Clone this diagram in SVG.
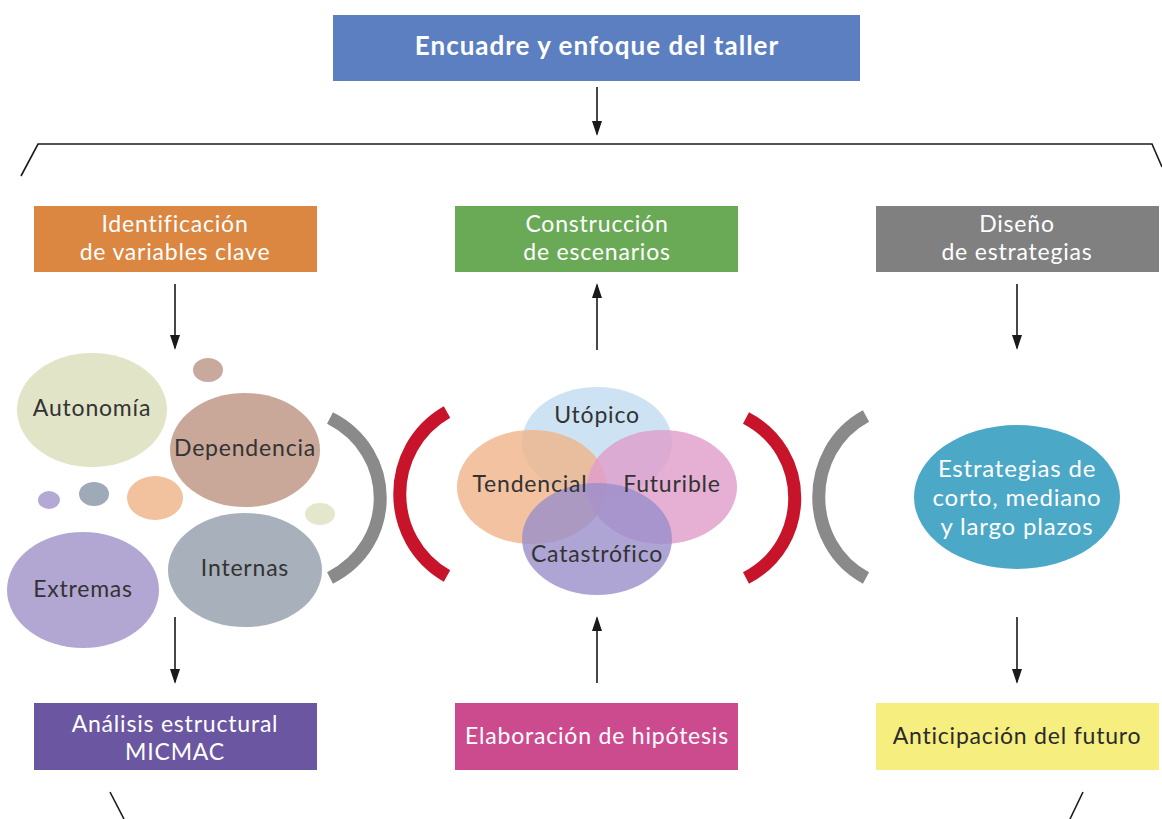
<svg xmlns="http://www.w3.org/2000/svg" width="1162" height="819" viewBox="0 0 1162 819">
<defs>
<marker id="ah" markerWidth="15" markerHeight="11" refX="13" refY="5" orient="auto" markerUnits="userSpaceOnUse" viewBox="0 0 15 10">
<path d="M0,0 L15,5 L0,10 Z" fill="#1a1a1a"/>
</marker>
</defs>
<style>
text{font-family:"Lato","Open Sans","DejaVu Sans",sans-serif;text-anchor:middle;letter-spacing:0.8px}
.bt{fill:#ffffff;font-size:23px}
.dk{fill:#2a2a2a;font-size:23px}
.el{fill:#333333;font-size:23px}
.ln{stroke:#1a1a1a;stroke-width:1.6;fill:none}
.arc{fill:none;stroke-width:13;stroke-linecap:butt}
</style>
<rect width="1162" height="819" fill="#ffffff"/>

<g id="connectors">
<line class="ln" x1="597" y1="87" x2="597" y2="134" marker-end="url(#ah)"/>
<polyline class="ln" points="21,176 38,144 1152,144 1162,167"/>
<line class="ln" x1="175" y1="284" x2="175" y2="348" marker-end="url(#ah)"/>
<line class="ln" x1="597" y1="350" x2="597" y2="285" marker-end="url(#ah)"/>
<line class="ln" x1="1017" y1="284" x2="1017" y2="348" marker-end="url(#ah)"/>
<line class="ln" x1="175" y1="617" x2="175" y2="682" marker-end="url(#ah)"/>
<line class="ln" x1="597" y1="683" x2="597" y2="618" marker-end="url(#ah)"/>
<line class="ln" x1="1017" y1="617" x2="1017" y2="682" marker-end="url(#ah)"/>
<line class="ln" x1="110" y1="792" x2="124" y2="819"/>
<line class="ln" x1="1083" y1="792" x2="1070" y2="819"/>
</g>

<g id="n-encuadre">
<rect x="333" y="15" width="527" height="66" fill="#5b7fc0"/>
<text class="bt" x="597" y="55" style="font-weight:700;font-size:26px;letter-spacing:1px">Encuadre y enfoque del taller</text>
</g>

<g id="n-identificacion">
<rect x="34" y="206" width="283" height="66" fill="#db8641"/>
<text class="bt" x="175" y="232">Identificación</text>
<text class="bt" x="175" y="260">de variables clave</text>
</g>

<g id="n-construccion">
<rect x="455" y="206" width="283" height="66" fill="#6aaa57"/>
<text class="bt" x="597" y="232">Construcción</text>
<text class="bt" x="597" y="260">de escenarios</text>
</g>

<g id="n-diseno">
<rect x="876" y="206" width="283" height="66" fill="#808080"/>
<text class="bt" x="1017" y="232">Diseño</text>
<text class="bt" x="1017" y="260">de estrategias</text>
</g>

<g id="n-variables">
<ellipse cx="92" cy="410" rx="75" ry="57" fill="#e2e4c8"/>
<ellipse cx="208" cy="370" rx="15" ry="12" fill="#c9a99d"/>
<ellipse cx="245" cy="450" rx="75" ry="57" fill="#c9a89a"/>
<ellipse cx="49" cy="500" rx="11" ry="9" fill="#b4a8d4"/>
<ellipse cx="94" cy="494" rx="15" ry="12" fill="#9eaab7"/>
<ellipse cx="155" cy="498" rx="28" ry="22" fill="#f2c19d"/>
<ellipse cx="320" cy="514" rx="15" ry="11" fill="#e4e7cb"/>
<ellipse cx="83" cy="590" rx="76" ry="58" fill="#b2a7d2"/>
<ellipse cx="245" cy="570" rx="77" ry="57" fill="#a7b0bb"/>
<text class="el" x="92" y="416">Autonomía</text>
<text class="el" x="245" y="456">Dependencia</text>
<text class="el" x="245" y="576">Internas</text>
<text class="el" x="83" y="597">Extremas</text>
</g>

<g id="n-escenarios">
<ellipse cx="597" cy="442" rx="75" ry="55" fill="#c4def1" opacity="0.85"/>
<ellipse cx="532" cy="487" rx="75" ry="57" fill="#f0b48a" opacity="0.8"/>
<ellipse cx="662" cy="487" rx="75" ry="57" fill="#e09ccb" opacity="0.8"/>
<ellipse cx="597" cy="539" rx="75" ry="56" fill="#9a8ecb" opacity="0.8"/>
<text class="el" x="597" y="423">Utópico</text>
<text class="el" x="530" y="492">Tendencial</text>
<text class="el" x="672" y="492">Futurible</text>
<text class="el" x="597" y="562">Catastrófico</text>
</g>

<g id="n-estrategias">
<ellipse cx="1017" cy="497" rx="103" ry="72" fill="#4ba8c7"/>
<text class="bt" x="1017" y="477" style="font-size:24px">Estrategias de</text>
<text class="bt" x="1017" y="506" style="font-size:24px">corto, mediano</text>
<text class="bt" x="1017" y="535" style="font-size:24px">y largo plazos</text>
</g>

<g id="brackets">
<path class="arc" stroke="#8a8a8a" d="M330,418 C397,452 397,544 330,578"/>
<path class="arc" stroke="#c8142b" d="M447,412 C384,448 384,540 447,576"/>
<path class="arc" stroke="#c8142b" d="M746,418 C811,452 811,544 746,578"/>
<path class="arc" stroke="#8a8a8a" d="M866,416 C803,450 803,544 866,578"/>
</g>

<g id="n-micmac">
<rect x="34" y="703" width="283" height="67" fill="#6b56a1"/>
<text class="bt" x="175" y="732">Análisis estructural</text>
<text class="bt" x="175" y="760">MICMAC</text>
</g>

<g id="n-hipotesis">
<rect x="455" y="703" width="283" height="67" fill="#cc4b8f"/>
<text class="bt" x="597" y="744">Elaboración de hipótesis</text>
</g>

<g id="n-anticipacion">
<rect x="876" y="703" width="283" height="67" fill="#f7ee80"/>
<text class="dk" x="1017" y="744">Anticipación del futuro</text>
</g>
</svg>
